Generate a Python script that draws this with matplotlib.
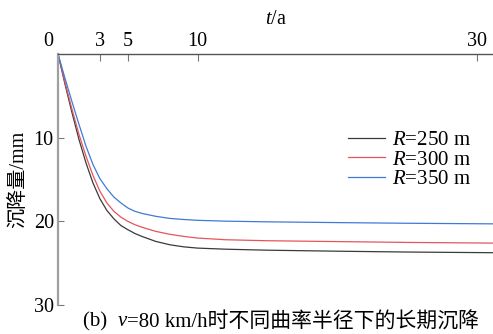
import matplotlib
matplotlib.use("Agg")
import matplotlib.pyplot as plt

plt.rcParams['font.family'] = ['Liberation Serif', 'Noto Sans CJK SC']
plt.rcParams['mathtext.fontset'] = 'custom'
plt.rcParams['mathtext.it'] = 'Liberation Serif:italic'
plt.rcParams['mathtext.rm'] = 'Liberation Serif'

# 时间 t/a
t = [0, 0.5, 1, 1.5, 2, 2.5, 3, 3.5, 4, 4.5, 5, 5.5, 6, 7, 8, 9, 10, 12, 15, 20, 25, 31.1]
# 各曲率半径下的沉降量 (mm)
s_250 = [0, 3.6, 7.0, 10.2, 13.0, 15.4, 17.3, 18.7, 19.7, 20.5, 21.0, 21.45, 21.8,
         22.4, 22.8, 23.05, 23.2, 23.33, 23.45, 23.57, 23.67, 23.75]
s_300 = [0, 3.4, 6.6, 9.6, 12.2, 14.5, 16.4, 17.8, 18.8, 19.5, 20.0, 20.4, 20.7,
         21.2, 21.55, 21.8, 22.0, 22.2, 22.32, 22.42, 22.52, 22.6]
s_350 = [0, 2.9, 5.7, 8.4, 11.0, 13.2, 14.9, 16.1, 17.1, 17.8, 18.4, 18.8, 19.05,
         19.4, 19.65, 19.78, 19.88, 19.98, 20.06, 20.15, 20.23, 20.3]

labels = ["250", "300", "350"]
colors = ["#3a3a3a", "#e4555c", "#3f7ad6"]

fig = plt.figure(figsize=(4.93, 3.34), dpi=100)
ax = fig.add_axes([58 / 493, 1 - 305 / 334, 1 - 58 / 493, (305 - 54) / 334])

for s, lab, c in zip([s_250, s_300, s_350], labels, colors):
    ax.plot(t, s, color=c, lw=0.9, label=r"$R$=" + lab + " m")

ax.set_xlim(0, 31.14)
ax.set_ylim(30, 0)
ax.xaxis.tick_top()
ax.set_xticks([3, 5, 10, 30])
ax.set_yticks([10, 20, 30])
ax.tick_params(axis='x', direction='in', length=5, width=0.8, color='#777777',
               labelsize=14.5, pad=2)
ax.tick_params(axis='y', direction='in', length=4.5, width=0.8, color='#777777',
               labelsize=14.5, pad=3)
ax.spines['right'].set_visible(False)
ax.spines['bottom'].set_visible(False)
ax.spines['top'].set_color('#555555')
ax.spines['top'].set_linewidth(1.0)
ax.spines['left'].set_color('#a0a0a0')
ax.spines['left'].set_linewidth(1.6)

# 原点标注
ax.annotate("0", xy=(0, 0), xycoords='data', xytext=(-7, 2), textcoords='offset points',
            fontsize=14.5, ha='center', va='bottom')

ax.set_xlabel(r"$t$/a", fontsize=14.5, labelpad=6)
ax.xaxis.set_label_position('top')
ax.set_ylabel("沉降量/mm", fontsize=14.5, labelpad=4)

ax.legend(loc='upper right', bbox_to_anchor=(481 / 493, 1 - 120 / 334),
          bbox_transform=fig.transFigure, frameon=False, fontsize=15,
          handlelength=1.8, handletextpad=0.3, labelspacing=0.0, borderpad=0)

# 图题: 斜体 v 分段书写
cap1 = fig.text(83 / 493, 1 - 322 / 334, "(b)  ", fontsize=15, ha='left', va='center')
cap2 = ax.annotate("v", xy=(1, 0.5), xycoords=cap1, fontsize=15, style='italic',
                   ha='left', va='center', annotation_clip=False)
ax.annotate("=80 km/h时不同曲率半径下的长期沉降", xy=(1, 0.5), xycoords=cap2,
            fontsize=15, ha='left', va='center', annotation_clip=False)

fig.savefig("out.png", dpi=100)
